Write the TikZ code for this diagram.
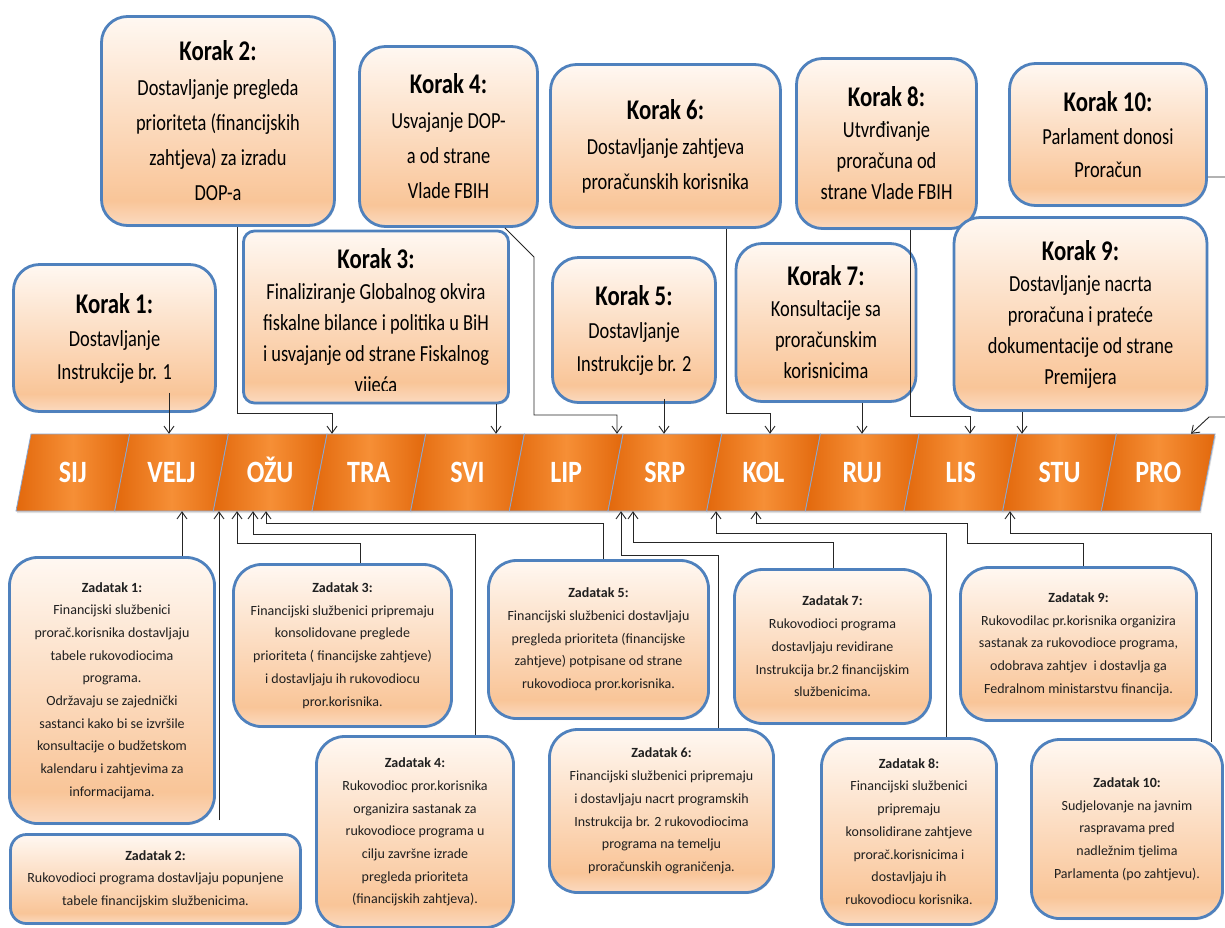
\documentclass[tikz,border=0pt]{standalone}
\usepackage{fontspec}
\setmainfont{Carlito}
\newfontfamily\kfont{Carlito}[FakeStretch=0.8]
\newfontfamily\mfont{Carlito}[FakeStretch=0.84]
\usetikzlibrary{arrows.meta,calc,shadows}
\definecolor{kblue}{HTML}{4F81BD}
\definecolor{ktop}{HTML}{FFF8F2}
\definecolor{kbot}{HTML}{F9C598}
\definecolor{kbl}{HTML}{FBDAC0}
\definecolor{morange}{HTML}{E2680C}
\definecolor{mlight}{HTML}{F68F36}
\definecolor{medge}{HTML}{8AA7D0}
\pgfdeclareverticalshading{kshade}{100bp}{color(0bp)=(kbl); color(25bp)=(kbl); color(31bp)=(kbot); color(75bp)=(ktop); color(100bp)=(ktop)}
\newcommand{\ktitle}[1]{{\bfseries\fontsize{28.5}{28.5}\selectfont #1}}
\newcommand{\ztitle}[1]{{\bfseries #1}}
\tikzset{
  wh/.style 2 args={minimum width=#1pt, minimum height=#2pt},
  box/.style={draw=kblue, line width=2.8pt, shading=kshade, align=center, inner sep=0pt, text=black,
    drop shadow={shadow xshift=1.2pt, shadow yshift=-1.5pt, opacity=0.18}},
  korak/.style={box, rounded corners=26pt, font=\kfont\fontsize{23}{#1}\selectfont},
  korak/.default=33,
  zad/.style={box, rounded corners=28pt, font=\fontsize{14}{22.7}\selectfont, text=black!88},
  month/.style={text=white, font=\mfont\bfseries\fontsize{31}{31}\selectfont, minimum height=77pt,
    inner sep=0pt, text height=20pt, text depth=0pt},
  conn/.style={draw=black!85, line width=0.9pt},
  arr/.style={conn, -{Straight Barb[length=7pt,width=10pt]}}
}
\begin{document}
\begin{tikzpicture}[x=1pt,y=-1pt]
\fill[white] (0,0) rectangle (1225,927);
\useasboundingbox (0,0) rectangle (1225,927);

% months
\foreach \n [count=\i] in {SIJ,VELJ,OŽU,TRA,SVI,LIP,SRP,KOL,RUJ,LIS,STU,PRO}{
  \pgfmathsetmacro\bx{16+98.67*(\i-1)}
  \path[draw=medge, line width=0.8pt, left color=morange, right color=morange, middle color=mlight,
        drop shadow={shadow xshift=1pt, shadow yshift=-2pt, opacity=0.25}]
    (\bx,511) -- ++(98.67,0) -- ++(15,-77) -- ++(-98.67,0) -- cycle;
  \node[month] (m\i) at (\bx+56.8,472.5) {\n};
}

% Korak boxes
\node[korak, wh={202}{147}] (k1) at (114.5,338) {\ktitle{Korak 1:}\\Dostavljanje\\Instrukcije br. 1};
\node[korak=35, wh={233}{209}] (k2) at (218,121) {\ktitle{Korak 2:}\\Dostavljanje pregleda\\prioriteta (financijskih\\zahtjeva) za izradu\\DOP-a};
\node[korak, rounded corners=11pt, wh={265}{172}] (k3) at (376,317) {};
\begin{scope}
  \clip (244,232) rectangle (508,390);
  \node[align=center, inner sep=0pt, font=\kfont\fontsize{23}{31}\selectfont] (k3t) at (376,322) {\ktitle{Korak 3:}\\Finaliziranje Globalnog okvira\\fiskalne bilance i politika u BiH\\i usvajanje od strane Fiskalnog\\vijeća};
\end{scope}
\node[korak=35, wh={178}{180}] (k4) at (448.5,136.5) {\ktitle{Korak 4:}\\Usvajanje DOP-\\a od strane\\Vlade FBIH};
\node[korak, wh={163}{145}] (k5) at (634,330) {\ktitle{Korak 5:}\\Dostavljanje\\Instrukcije br. 2};
\node[korak=35, wh={230}{163}] (k6) at (665.5,146) {\ktitle{Korak 6:}\\Dostavljanje zahtjeva\\proračunskih korisnika};
\node[korak=31, wh={180}{158}] (k7) at (826,322.5) {\ktitle{Korak 7:}\\Konsultacije sa\\proračunskim\\korisnicima};
\node[korak=31, wh={180}{170}] (k8) at (886.5,143.5) {\ktitle{Korak 8:}\\Utvrđivanje\\proračuna od\\strane Vlade FBIH};
\node[korak=31, wh={253}{193}] (k9) at (1080.5,314) {\ktitle{Korak 9:}\\Dostavljanje nacrta\\proračuna i prateće\\dokumentacije od strane\\Premijera};
\node[korak, wh={197}{142}] (k10) at (1108,134.5) {\ktitle{Korak 10:}\\Parlament donosi\\Proračun};

% Zadatak boxes
\node[zad, wh={205}{266}] (z1) at (112,690.5) {\ztitle{Zadatak 1:}\\Financijski službenici\\prorač.korisnika dostavljaju\\tabele rukovodiocima\\programa.\\Održavaju se zajednički\\sastanci kako bi se izvršile\\konsultacije o budžetskom\\kalendaru i zahtjevima za\\informacijama.};
\node[zad, rounded corners=16pt, wh={290}{89}] (z2) at (155.5,879) {\ztitle{Zadatak 2:}\\Rukovodioci programa dostavljaju popunjene\\tabele financijskim službenicima.};
\node[zad, wh={218}{162}] (z3) at (342.5,645.5) {\ztitle{Zadatak 3:}\\Financijski službenici pripremaju\\konsolidovane preglede\\prioriteta ( financijske zahtjeve)\\i dostavljaju ih rukovodiocu\\pror.korisnika.};
\node[zad, wh={197}{191}] (z4) at (415,832) {\ztitle{Zadatak 4:}\\Rukovodioc pror.korisnika\\organizira sastanak za\\rukovodioce programa u\\cilju završne izrade\\pregleda prioriteta\\(financijskih zahtjeva).};
\node[zad, wh={220}{158}] (z5) at (598.5,639.5) {\ztitle{Zadatak 5:}\\Financijski službenici dostavljaju\\pregleda prioriteta (financijske\\zahtjeve) potpisane od strane\\rukovodioca pror.korisnika.};
\node[zad, wh={224}{163}] (z6) at (661.5,811) {\ztitle{Zadatak 6:}\\Financijski službenici pripremaju\\i dostavljaju nacrt programskih\\Instrukcija br. 2 rukovodiocima\\programa na temelju\\proračunskih ograničenja.};
\node[zad, wh={196}{154}] (z7) at (832.5,646.5) {\ztitle{Zadatak 7:}\\Rukovodioci programa\\dostavljaju revidirane\\Instrukcija br.2 financijskim\\službenicima.};
\node[zad, wh={175}{186}] (z8) at (909,831.5) {\ztitle{Zadatak 8:}\\Financijski službenici\\pripremaju\\konsolidirane zahtjeve\\prorač.korisnicima i\\dostavljaju ih\\rukovodiocu korisnika.};
\node[zad, wh={236}{153}] (z9) at (1078.5,644) {\ztitle{Zadatak 9:}\\Rukovodilac pr.korisnika organizira\\sastanak za rukovodioce programa,\\odobrava zahtjev\ \ i dostavlja ga\\Fedralnom ministarstvu financija.};
\node[zad, wh={191}{179}] (z10) at (1127,829) {\ztitle{Zadatak 10:}\\Sudjelovanje na javnim\\raspravama pred\\nadležnim tjelima\\Parlamenta (po zahtjevu).};

% top connectors
\draw[arr] ($(169,0 |- k1.south)+(0,-20)$) -- (169,0 |- m2.north);
\draw[arr] (237,0 |- k2.south) |- (332,413) -- (332,0 |- m3.north);
\draw[arr] (496,0 |- k3.south) -- (496,0 |- m5.north);
\draw[arr] (505,0 |- k4.south) -- (534,257) |- (617,415) -- (617,0 |- m7.north);
\draw[arr] ($(664,0 |- k5.south)+(0,-5)$) -- (664,0 |- m7.north);
\draw[arr] (726,0 |- k6.south) |- (770,413) -- (770,0 |- m8.north);
\draw[arr] (862,0 |- k7.south) -- (862,0 |- m9.north);
\draw[arr] (910,0 |- k8.south) |- (970,416) -- (970,0 |- m10.north);
\draw[arr] (1022,0 |- k9.south) -- (1022,0 |- m11.north);
\draw[arr] (k10.east |- 0,177) -- (1232,177) -- (1232,417) -- (1209,417) -- (1191,0 |- m12.north);

% bottom connectors
\draw[arr] (182,0 |- z1.north) -- (182,0 |- m2.south);
\draw[arr] ($(219,0 |- z2.north)+(0,-13)$) -- (219,0 |- m3.south);
\draw[arr] (360,0 |- z3.north) |- (237,543) -- (237,0 |- m3.south);
\draw[arr] (475,0 |- z4.north) |- (253,534) -- (253,0 |- m3.south);
\draw[arr] (603,0 |- z5.north) |- (266,523) -- (266,0 |- m3.south);
\draw[arr] (718,0 |- z6.north) |- (621,555) -- (621,0 |- m7.south);
\draw[arr] (833,0 |- z7.north) |- (633,542) -- (633,0 |- m7.south);
\draw[arr] (946,0 |- z8.north) |- (716,533) -- (716,0 |- m8.south);
\draw[arr] (1083,0 |- z9.north) |- (967,543) |- (756,523) -- (756,0 |- m8.south);
\draw[arr] ($(1211,0 |- z10.north)+(0,4)$) |- (1010,533) -- (1010,0 |- m11.south);
\end{tikzpicture}
\end{document}
